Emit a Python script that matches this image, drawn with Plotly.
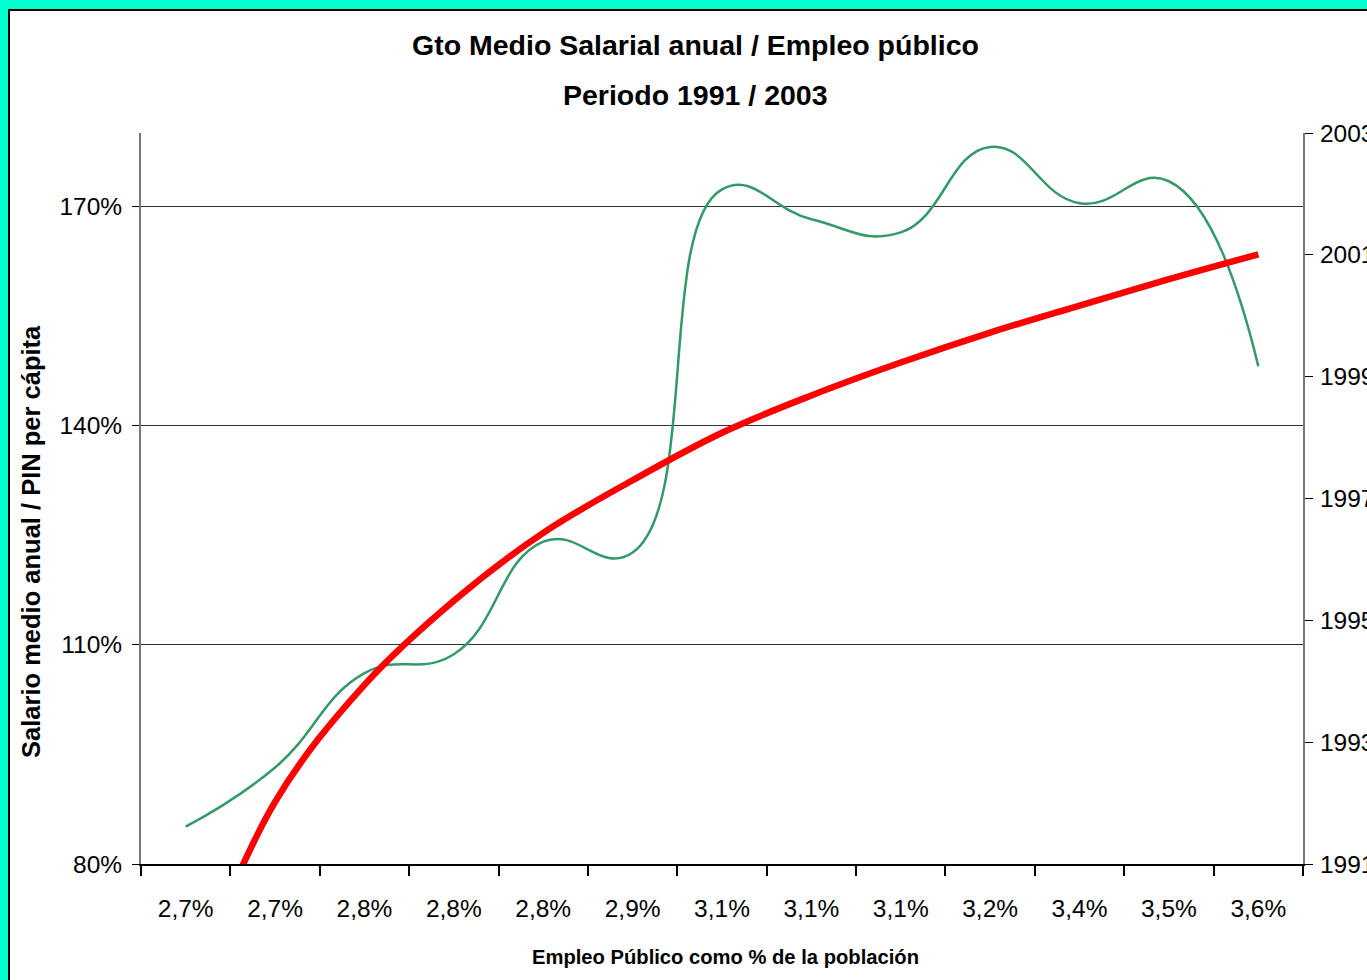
import plotly.graph_objects as go

# ---- data ----
categories = ["2,7%", "2,7%", "2,8%", "2,8%", "2,8%", "2,9%", "3,1%",
              "3,1%", "3,1%", "3,2%", "3,4%", "3,5%", "3,6%"]
salario_pin = [85.1, 93.2, 106.1, 108.7, 124.1, 122.6, 172.3,
               168.2, 166.4, 178.1, 170.4, 173.4, 148.1]          # % (left axis)
tendencia = [61.1, 88.5, 104.5, 116.0, 125.3, 132.5, 139.0,
             144.1, 148.6, 152.7, 156.4, 160.0, 163.4]            # % (left axis, trend)
years_ticks = [1991, 1993, 1995, 1997, 1999, 2001, 2003]
left_ticks = [80, 110, 140, 170]

xpos = list(range(1, len(categories) + 1))

NARROW = "Liberation Sans Narrow, Arial Narrow, Liberation Sans, Arial, sans-serif"
SANS = "Liberation Sans, Arial, sans-serif"

fig = go.Figure()
fig.add_trace(go.Scatter(
    x=xpos, y=salario_pin, mode="lines",
    line=dict(color="#339966", width=2.5, shape="spline", smoothing=1.3),
    showlegend=False, hoverinfo="skip"))
fig.add_trace(go.Scatter(
    x=xpos, y=tendencia, mode="lines",
    line=dict(color="#FF0000", width=6.5, shape="spline", smoothing=1),
    showlegend=False, hoverinfo="skip"))
# invisible trace so the secondary (year) axis is drawn
fig.add_trace(go.Scatter(x=[None], y=[None], yaxis="y2", showlegend=False,
                         hoverinfo="skip"))

W, H = 1367, 980
L, R, T, B = 141, 64, 133, 116
pw, ph = W - L - R, H - T - B

def px_x(p):
    return (p - L) / pw

def px_y(p):
    return (H - B - p) / ph

TICKSIZE = 24.5

fig.update_layout(
    width=W, height=H,
    margin=dict(l=L, r=R, t=T, b=B, pad=0, autoexpand=False),
    paper_bgcolor="#00FFCC",
    plot_bgcolor="#FFFFCC",
    xaxis=dict(
        range=[0.5, len(categories) + 0.5], automargin=False,
        tickmode="array", tickvals=xpos, ticktext=categories,
        ticks="", showgrid=False, zeroline=False,
        showline=True, linecolor="black", linewidth=1.5,
        tickfont=dict(family=NARROW, size=TICKSIZE, color="black"),
        ticklabelstandoff=22,
        minor=dict(tickmode="array",
                   tickvals=[i + 0.5 for i in range(0, len(categories) + 1)],
                   ticks="outside", ticklen=10, tickcolor="black",
                   tickwidth=1.5, showgrid=False),
    ),
    yaxis=dict(
        range=[80, 180], automargin=False,
        tickmode="array", tickvals=left_ticks,
        ticktext=[f"{v}%" for v in left_ticks],
        ticks="outside", ticklen=7, tickcolor="black", tickwidth=1,
        showgrid=True, gridcolor="#333333", gridwidth=1,
        zeroline=False, showline=True, linecolor="#777777", linewidth=2,
        tickfont=dict(family=NARROW, size=TICKSIZE, color="black"),
        ticklabelstandoff=5,
    ),
    yaxis2=dict(
        range=[1991, 2003], overlaying="y", side="right", anchor="x",
        automargin=False,
        tickmode="array", tickvals=years_ticks,
        ticktext=[str(v) for v in years_ticks],
        ticks="outside", ticklen=8, tickcolor="black",
        showgrid=False, zeroline=False,
        showline=True, linecolor="#777777", linewidth=2,
        tickfont=dict(family=NARROW, size=TICKSIZE, color="black"),
        ticklabelstandoff=2,
    ),
    shapes=[dict(
        type="rect", xref="paper", yref="paper",
        x0=px_x(9), x1=px_x(W + 40), y0=px_y(H + 40), y1=px_y(10),
        fillcolor="white", line=dict(color="black", width=2), layer="below")],
    annotations=[
        dict(text="<b>Gto Medio Salarial anual / Empleo público</b>",
             xref="paper", yref="paper", x=px_x(695.5), y=px_y(45),
             showarrow=False, xanchor="center", yanchor="middle",
             font=dict(family=NARROW, size=28.5, color="black")),
        dict(text="<b>Periodo 1991 / 2003</b>",
             xref="paper", yref="paper", x=px_x(695.5), y=px_y(95),
             showarrow=False, xanchor="center", yanchor="middle",
             font=dict(family=NARROW, size=28.5, color="black")),
        dict(text="<b>Salario medio anual / PIN per cápita</b>",
             xref="paper", yref="paper", x=px_x(31), y=px_y(542),
             textangle=-90, showarrow=False, xanchor="center", yanchor="middle",
             font=dict(family=SANS, size=25.5, color="black")),
        dict(text="<b>Empleo Público como % de la población</b>",
             xref="paper", yref="paper", x=px_x(725), y=px_y(957),
             showarrow=False, xanchor="center", yanchor="middle",
             font=dict(family=NARROW, size=20.2, color="black")),
    ],
)

# place the figure at the page's top-left corner (no default body margin)
fig.write_html("out.html",
               config={"displayModeBar": False},
               post_script="document.body.style.margin='0';")
